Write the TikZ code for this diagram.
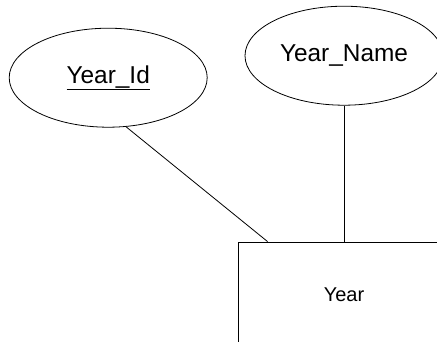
\documentclass[tikz,border=0pt]{standalone}
\usepackage{fontspec}
\setmainfont{Liberation Sans}
\usetikzlibrary{shapes, positioning}

\begin{document}
\begin{tikzpicture}[x=1pt, y=1pt, node distance=36pt, line width=0.8pt]

  % Styles for the entity and its attributes
  \tikzstyle{entity} = [draw, rectangle, minimum width=212pt, minimum height=106pt, font=\fontsize{20}{24}\selectfont]
  \tikzstyle{attribute} = [draw, ellipse, minimum width=198pt, minimum height=99pt, inner sep=0pt, font=\fontsize{24.4}{29}\selectfont]
  \tikzstyle{link} = [-, line width=0.8pt, black]

  \useasboundingbox (0,0) rectangle (437,-341);

  \node (year) [entity] at (344,-295) {Year};
  \node (year_name) [attribute, above=136pt of year] {Year\_Name};
  \node (year_id) [attribute, left=37pt of year_name, yshift=-22pt] {\underline{Year\_Id}};

  \coordinate (id_foot) at ([xshift=30pt]year.north west);

  \draw[link] (year_id.-70) -- (id_foot);
  \draw[link] (year_name) -- (year);
\end{tikzpicture}
\end{document}
